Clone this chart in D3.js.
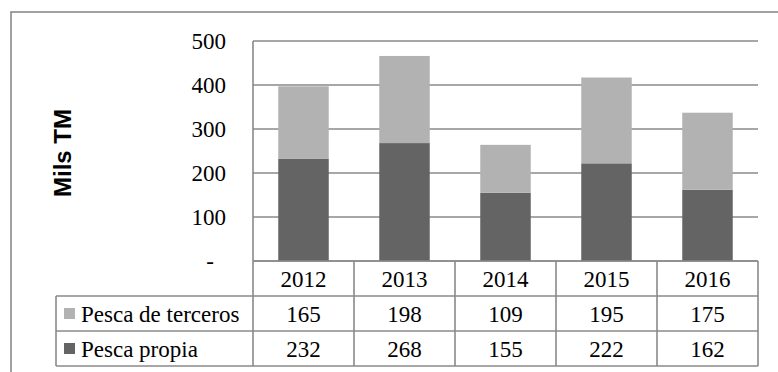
<!DOCTYPE html>
<html>
<head>
<meta charset="utf-8">
<script src="https://cdn.jsdelivr.net/npm/d3@7"></script>
<style>
  html, body { margin: 0; padding: 0; background: #fff; }
  svg { display: block; }
  .serif { font-family: "Liberation Serif", "Times New Roman", Times, serif; }
  .title { font-family: "Liberation Sans", Arial, sans-serif; font-weight: bold; }
</style>
</head>
<body>
<svg id="chart" width="778" height="372"></svg>
<script>
// Catch volumes (thousand tonnes) by year and origin
const years = ["2012", "2013", "2014", "2015", "2016"];
const pescaPropia = [232, 268, 155, 222, 162];
const pescaTerceros = [165, 198, 109, 195, 175];
const yTicks = [0, 100, 200, 300, 400, 500];
const seriesNames = ["Pesca de terceros", "Pesca propia"];
const seriesColors = { "Pesca propia": "#646464", "Pesca de terceros": "#b2b2b2" };

const svg = d3.select("#chart");
const plot = { left: 253, right: 758, top: 41, bottom: 261 };
const rowH = 35;
const legendLeft = 56;
const lineColor = "#8a8a8a";

// Outer chart frame (runs past the right and bottom edges)
svg.append("rect")
  .attr("x", 11).attr("y", 12)
  .attr("width", 820).attr("height", 420)
  .attr("fill", "none").attr("stroke", lineColor).attr("stroke-width", 1.6);

const x = d3.scaleBand().domain(years)
  .range([plot.left, plot.right])
  .paddingInner(0.5).paddingOuter(0.25);
const col = d3.scaleBand().domain(years).range([plot.left, plot.right]);
const y = d3.scaleLinear().domain([0, 500]).range([plot.bottom, plot.top]);

// Horizontal gridlines
svg.append("g").selectAll("line").data(yTicks).join("line")
  .attr("x1", plot.left).attr("x2", plot.right)
  .attr("y1", d => y(d)).attr("y2", d => y(d))
  .attr("stroke", lineColor).attr("stroke-width", 1.6);

// Stacked bars
const rows = years.map((yr, i) => ({ year: yr, "Pesca propia": pescaPropia[i], "Pesca de terceros": pescaTerceros[i] }));
const stack = d3.stack().keys(["Pesca propia", "Pesca de terceros"])(rows);
svg.append("g").selectAll("g").data(stack).join("g")
  .attr("fill", s => seriesColors[s.key])
  .selectAll("rect").data(s => s).join("rect")
  .attr("x", d => x(d.data.year))
  .attr("width", x.bandwidth())
  .attr("y", d => y(d[1]))
  .attr("height", d => y(d[0]) - y(d[1]));

// Value axis labels
svg.append("g").selectAll("text").data(yTicks).join("text")
  .attr("class", "serif")
  .attr("x", d => d === 0 ? 210 : 226)
  .attr("y", d => y(d) + 8)
  .attr("text-anchor", d => d === 0 ? "middle" : "end")
  .attr("font-size", 23).attr("fill", "#000")
  .text(d => d === 0 ? "-" : d3.format("d")(d));

// Axis title
svg.append("text")
  .attr("class", "title")
  .attr("transform", "translate(71,153) rotate(-90)")
  .attr("text-anchor", "middle")
  .attr("font-size", 24).attr("fill", "#000")
  .text("Mils TM");

// Data table below the plot
const tbl = svg.append("g");
const tableTop = plot.bottom;
const tableBottom = tableTop + rowH * 3;
[0, 1, 2, 3].forEach(r => {
  tbl.append("line")
    .attr("x1", r === 0 ? plot.left : legendLeft).attr("x2", plot.right)
    .attr("y1", tableTop + r * rowH).attr("y2", tableTop + r * rowH)
    .attr("stroke", lineColor).attr("stroke-width", 1.6);
});
const vx = years.map(d => col(d)).concat([plot.right]);
vx.forEach(xx => {
  tbl.append("line")
    .attr("x1", xx).attr("x2", xx)
    .attr("y1", xx === plot.left ? plot.top : tableTop).attr("y2", tableBottom)
    .attr("stroke", lineColor).attr("stroke-width", 1.6);
});
tbl.append("line")
  .attr("x1", legendLeft).attr("x2", legendLeft)
  .attr("y1", tableTop + rowH).attr("y2", tableBottom)
  .attr("stroke", lineColor).attr("stroke-width", 1.6);

// header row: years
tbl.selectAll("text.yr").data(years).join("text")
  .attr("class", "yr serif")
  .attr("x", d => col(d) + col.bandwidth() / 2)
  .attr("y", tableTop + rowH / 2 + 8)
  .attr("text-anchor", "middle")
  .attr("font-size", 23).attr("fill", "#000")
  .text(d => d);

// value rows with legend keys
const tableRows = [
  { name: seriesNames[0], values: pescaTerceros },
  { name: seriesNames[1], values: pescaPropia }
];
tableRows.forEach((row, r) => {
  const cy = tableTop + rowH * (r + 1) + rowH / 2;
  tbl.append("rect")
    .attr("x", 64).attr("y", cy - 5.5)
    .attr("width", 11).attr("height", 11)
    .attr("fill", seriesColors[row.name]);
  tbl.append("text")
    .attr("class", "serif")
    .attr("x", 81).attr("y", cy + 8)
    .attr("font-size", 23).attr("fill", "#000")
    .text(row.name);
  tbl.selectAll(null).data(row.values).join("text")
    .attr("class", "serif")
    .attr("x", (d, i) => col(years[i]) + col.bandwidth() / 2)
    .attr("y", cy + 8)
    .attr("text-anchor", "middle")
    .attr("font-size", 23).attr("fill", "#000")
    .text(d => d);
});
</script>
</body>
</html>
